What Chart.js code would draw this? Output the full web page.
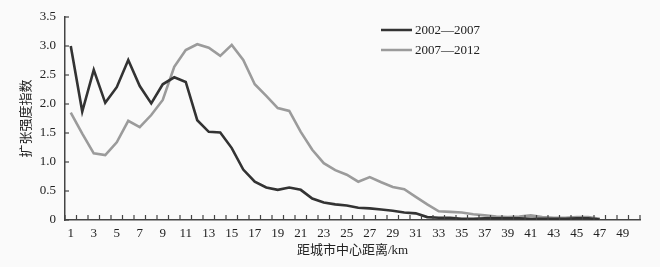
<!DOCTYPE html>
<html>
<head>
<meta charset="utf-8">
<script src="https://cdn.jsdelivr.net/npm/chart.js@4"></script>
<style>
  html, body { margin: 0; padding: 0; background: #fafafa; }
  #wrap { width: 660px; height: 267px; }
</style>
</head>
<body>
<div id="wrap"><canvas id="expandChart" width="660" height="267"></canvas></div>
<script>
// 距城市中心距离 (km), 1..50
var distLabels = [];
for (var k = 1; k <= 50; k++) distLabels.push(String(k));

var seriesNames = ['2002\u20142007', '2007\u20142012'];

// 2002-2007 扩张强度指数
var index0207 = [3.00, 1.87, 2.59, 2.02, 2.29, 2.76, 2.31, 2.01, 2.34, 2.46,
                 2.38, 1.72, 1.52, 1.51, 1.24, 0.87, 0.66, 0.56, 0.52, 0.56,
                 0.52, 0.37, 0.30, 0.27, 0.25, 0.21, 0.20, 0.18, 0.16, 0.13,
                 0.115, 0.05, 0.04, 0.04, 0.02, 0.02, 0.03, 0.03, 0.03, 0.03,
                 0.02, 0.02, 0.02, 0.02, 0.03, 0.03, 0.01, null, null, null];

// 2007-2012 扩张强度指数
var index0712 = [1.85, 1.49, 1.15, 1.12, 1.34, 1.71, 1.60, 1.81, 2.07, 2.64,
                 2.93, 3.03, 2.97, 2.83, 3.02, 2.76, 2.34, 2.14, 1.93, 1.88,
                 1.52, 1.21, 0.98, 0.86, 0.78, 0.66, 0.74, 0.65, 0.57, 0.53,
                 0.40, 0.27, 0.15, 0.14, 0.13, 0.10, 0.08, 0.06, 0.05, 0.06,
                 0.08, 0.05, 0.04, 0.04, 0.05, 0.05, 0.02, null, null, null];

var yTicks = [0, 0.5, 1.0, 1.5, 2.0, 2.5, 3.0, 3.5];

var axisColor = '#444';
var serif = "'Liberation Serif', 'Noto Sans CJK SC', serif";

// inward tick marks + legend drawn inside the plot
var innerTicks = {
    id: 'innerTicks',
    afterDraw: function(chart){
        var ctx = chart.ctx;
        var xs = chart.scales.x, ys = chart.scales.y;
        ctx.save();
        ctx.strokeStyle = axisColor;
        ctx.lineWidth = 1.2;
        var step = xs.getPixelForValue(1) - xs.getPixelForValue(0);
        for (var i = 0; i <= distLabels.length; i++) {
            var px = xs.getPixelForValue(0) - step / 2 + i * step;
            ctx.beginPath();
            ctx.moveTo(px, xs.top);
            ctx.lineTo(px, xs.top - 5);
            ctx.stroke();
        }
        yTicks.forEach(function(v){
            var py = ys.getPixelForValue(v);
            ctx.beginPath();
            ctx.moveTo(ys.right, py);
            ctx.lineTo(ys.right + 4, py);
            ctx.stroke();
        });

        // legend
        var ds = chart.data.datasets;
        ctx.font = '13px ' + serif;
        ctx.textBaseline = 'middle';
        ctx.fillStyle = '#222';
        ds.forEach(function(d, n){
            var ly = 30 + n * 20;
            ctx.strokeStyle = d.borderColor;
            ctx.lineWidth = 2.5;
            ctx.beginPath();
            ctx.moveTo(381, ly);
            ctx.lineTo(412, ly);
            ctx.stroke();
            ctx.fillText(d.label, 415, ly + 1);
        });
        ctx.restore();
    }
};

var chartEl = document.getElementById('expandChart');
var expandChart = new Chart(chartEl, {
    type: 'line',
    data: {
        labels: distLabels,
        datasets: [{
            label: seriesNames[0],
            data: index0207,
            borderColor: '#333333',
            borderWidth: 2.6,
            pointRadius: 0,
            tension: 0,
            fill: false
        }, {
            label: seriesNames[1],
            data: index0712,
            borderColor: '#9b9b9b',
            borderWidth: 2.6,
            pointRadius: 0,
            tension: 0,
            fill: false
        }]
    },
    options: {
        responsive: false,
        animation: false,
        layout: { padding: { top: 17, right: 20, left: 0, bottom: 0 } },
        plugins: {
            legend: { display: false },
            tooltip: { enabled: false }
        },
        scales: {
            x: {
                type: 'category',
                offset: true,
                grid: { display: false, drawTicks: false },
                border: { display: true, color: axisColor, width: 1.5 },
                ticks: {
                    autoSkip: false,
                    maxRotation: 0,
                    padding: 6,
                    color: '#222',
                    font: { family: serif, size: 13 },
                    callback: function(val, idx){
                        return idx % 2 === 0 ? distLabels[idx] : '';
                    }
                },
                title: {
                    display: true,
                    text: '距城市中心距离/km',
                    color: '#222',
                    font: { family: serif, size: 13 },
                    padding: { top: 0, bottom: 9 }
                },
                afterFit: function(scale){ scale.height = 47; }
            },
            y: {
                min: 0,
                max: 3.5,
                grid: { display: false, drawTicks: false },
                border: { display: true, color: axisColor, width: 1.5 },
                afterBuildTicks: function(scale){
                    scale.ticks = yTicks.map(function(v){ return { value: v }; });
                },
                ticks: {
                    padding: 9,
                    color: '#222',
                    font: { family: serif, size: 13 },
                    callback: function(v){ return v === 0 ? '0' : v.toFixed(1); }
                },
                title: {
                    display: true,
                    text: '扩张强度指数',
                    color: '#222',
                    font: { family: serif, size: 13 },
                    padding: { top: 19, bottom: 0 }
                },
                afterFit: function(scale){ scale.width = 65; }
            }
        }
    },
    plugins: [innerTicks]
});
</script>
</body>
</html>
